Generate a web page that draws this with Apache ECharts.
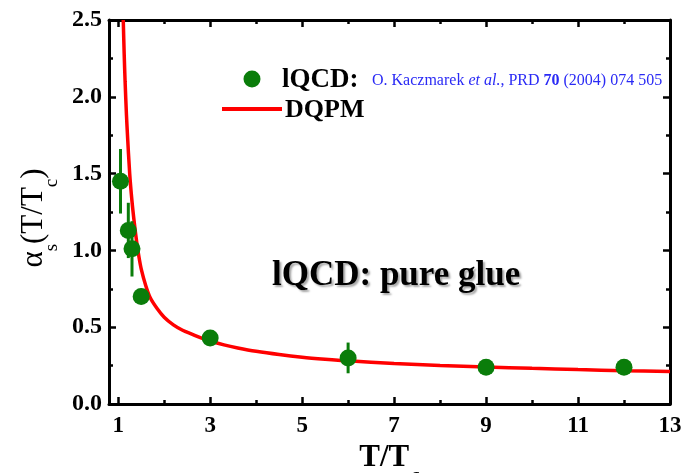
<!DOCTYPE html>
<html>
<head>
<meta charset="utf-8">
<script src="https://cdn.jsdelivr.net/npm/echarts@6/dist/echarts.min.js"></script>
<style>
html,body{margin:0;padding:0;background:#fff;}
#chart{width:696px;height:473px;}
</style>
</head>
<body>
<div id="chart"></div>
<script>
// lattice QCD data (T/Tc, alpha_s, error)
var dataT = [1.05, 1.22, 1.30, 1.50, 3.0, 6.0, 9.0, 12.0];
var dataAlpha = [1.45, 1.13, 1.01, 0.70, 0.43, 0.30, 0.24, 0.24];
var dataErr = [0.21, 0.18, 0.18, 0.05, 0.05, 0.10, 0.03, 0.03];
// DQPM curve
var curveT = [1.11, 1.13, 1.15, 1.18, 1.2, 1.25, 1.3, 1.35, 1.4, 1.45, 1.5, 1.6, 1.7, 1.85, 2.0, 2.2, 2.4, 2.6, 2.8, 3.0, 3.3, 3.6, 4.0, 4.5, 5, 5.5, 6, 7, 8, 9, 10, 11, 12, 13];
var curveAlpha = [2.5, 2.28, 2.1, 1.88, 1.76, 1.5, 1.32, 1.18, 1.06, 0.96, 0.88, 0.77, 0.69, 0.62, 0.565, 0.515, 0.48, 0.455, 0.43, 0.41, 0.385, 0.365, 0.343, 0.322, 0.305, 0.292, 0.281, 0.264, 0.251, 0.241, 0.232, 0.224, 0.217, 0.211];
// tick positions
var xMajorTicks = [1, 3, 5, 7, 9, 11, 13];
var xMinorTicks = [2, 4, 6, 8, 10, 12];

var green = '#0a7d0a';
var serif = '"Liberation Serif", "DejaVu Serif", serif';

var scatterData = dataT.map(function (t, i) { return [t, dataAlpha[i]]; });
var errData = dataT.map(function (t, i) { return [t, dataAlpha[i] - dataErr[i], dataAlpha[i] + dataErr[i]]; });
var lineData = curveT.map(function (t, i) { return [t, curveAlpha[i]]; });

var chart = echarts.init(document.getElementById('chart'));

function xAxisBase(pos, ticks, len, showLabel, showLine) {
  return {
    type: 'value', position: pos, min: 0.8, max: 13,
    splitLine: { show: false },
    axisLine: { show: showLine, onZero: false, lineStyle: { color: '#000', width: 3 } },
    axisTick: { show: true, inside: true, length: len, customValues: ticks, lineStyle: { color: '#000', width: 2.5 } },
    axisLabel: showLabel ? { show: true, customValues: ticks, fontFamily: serif, fontWeight: 'bold', fontSize: 23, color: '#000', margin: 11 } : { show: false }
  };
}

var xAxes = [
  xAxisBase('bottom', xMajorTicks, 7, true, true),
  xAxisBase('bottom', xMinorTicks, 4, false, false),
  xAxisBase('top', xMajorTicks, 7, false, true),
  xAxisBase('top', xMinorTicks, 4, false, false)
];
xAxes[0].name = '{a|T/T}{s|c}';
xAxes[0].nameLocation = 'middle';
xAxes[0].nameGap = 32;
xAxes[0].nameTextStyle = {
  rich: {
    a: { fontFamily: serif, fontWeight: 'bold', fontSize: 31, color: '#000', lineHeight: 34, verticalAlign: 'bottom' },
    s: { fontFamily: serif, fontWeight: 'bold', fontSize: 19, color: '#000', lineHeight: 34, verticalAlign: 'bottom', padding: [0, 0, -12, 2] }
  }
};

function yAxisBase(pos, showLabel) {
  return {
    type: 'value', position: pos, min: 0, max: 2.5, interval: 0.5,
    splitLine: { show: false },
    axisLine: { show: true, onZero: false, lineStyle: { color: '#000', width: 3 } },
    axisTick: { show: true, inside: true, length: 7, lineStyle: { color: '#000', width: 2.5 } },
    minorTick: { show: true, splitNumber: 2, length: 4, lineStyle: { color: '#000', width: 2.5 } },
    minorSplitLine: { show: false },
    axisLabel: showLabel ? { show: true, fontFamily: serif, fontWeight: 'bold', fontSize: 24, color: '#000', margin: 7, formatter: function (v) { return v.toFixed(1); } } : { show: false }
  };
}
var yAxes = [yAxisBase('left', true), yAxisBase('right', false)];
yAxes[0].name = '{a|α}{s|s}{a|(T/T}{s|c}{a|)}';
yAxes[0].nameLocation = 'middle';
yAxes[0].nameRotate = 90;
yAxes[0].nameGap = 56;
yAxes[0].nameTextStyle = {
  padding: [0, 12, 0, 0],
  rich: {
    a: { fontFamily: serif, fontSize: 31, color: '#000', lineHeight: 36, verticalAlign: 'bottom' },
    s: { fontFamily: serif, fontSize: 19, color: '#000', lineHeight: 36, verticalAlign: 'bottom', padding: [0, 0, -12, 0] }
  }
};

var option = {
  backgroundColor: '#fff',
  animation: false,
  grid: { left: 109, right: 26, top: 20, bottom: 69, containLabel: false, outerBoundsMode: 'none' },
  xAxis: xAxes,
  yAxis: yAxes,
  graphic: [
    // legend
    { type: 'circle', shape: { cx: 252, cy: 79, r: 8.5 }, style: { fill: green }, z: 10 },
    { type: 'text', x: 282, y: 80, z: 10,
      style: { text: 'lQCD:', fontFamily: serif, fontWeight: 'bold', fontSize: 27, fill: '#000', verticalAlign: 'middle' } },
    { type: 'text', x: 372, y: 81, z: 10,
      style: {
        text: '{c|O. Kaczmarek }{ci|et al.}{c|, PRD }{cb|70}{c| (2004) 074 505}', verticalAlign: 'middle',
        rich: {
          c: { fontFamily: serif, fontSize: 16, fill: '#2a2af5' },
          ci: { fontFamily: serif, fontSize: 16, fontStyle: 'italic', fill: '#2a2af5' },
          cb: { fontFamily: serif, fontSize: 16, fontWeight: 'bold', fill: '#2a2af5' }
        }
      } },
    { type: 'line', shape: { x1: 222, y1: 109, x2: 282, y2: 109 }, style: { stroke: '#ff0000', lineWidth: 4 }, z: 10 },
    { type: 'text', x: 285, y: 110, z: 10,
      style: { text: 'DQPM', fontFamily: serif, fontWeight: 'bold', fontSize: 26, fill: '#000', verticalAlign: 'middle' } },
    // annotation
    {
      type: 'text', left: 272, top: 258, z: 10,
      style: {
        text: 'lQCD: pure glue', fontFamily: serif, fontWeight: 'bold', fontSize: 35, fill: '#000',
        textShadowColor: 'rgba(0,0,0,0.35)', textShadowOffsetX: 2, textShadowOffsetY: 2, textShadowBlur: 2
      }
    }
  ],
  series: [
    {
      name: 'DQPM', type: 'line', data: lineData, smooth: 0.3, showSymbol: false, symbol: 'none',
      xAxisIndex: 0, yAxisIndex: 0, clip: true,
      lineStyle: { color: '#ff0000', width: 3.5 }, itemStyle: { color: '#ff0000' }, z: 2
    },
    {
      name: 'lQCD-err', type: 'custom', data: errData, xAxisIndex: 0, yAxisIndex: 0, z: 3,
      renderItem: function (params, api) {
        var p1 = api.coord([api.value(0), api.value(1)]);
        var p2 = api.coord([api.value(0), api.value(2)]);
        return { type: 'line', shape: { x1: p1[0], y1: p1[1], x2: p2[0], y2: p2[1] }, style: { stroke: green, lineWidth: 3 } };
      }
    },
    {
      name: 'lQCD', type: 'scatter', data: scatterData, symbol: 'circle', symbolSize: 17,
      xAxisIndex: 0, yAxisIndex: 0, itemStyle: { color: green, opacity: 1 }, z: 4
    }
  ]
};
chart.setOption(option);
</script>
</body>
</html>
